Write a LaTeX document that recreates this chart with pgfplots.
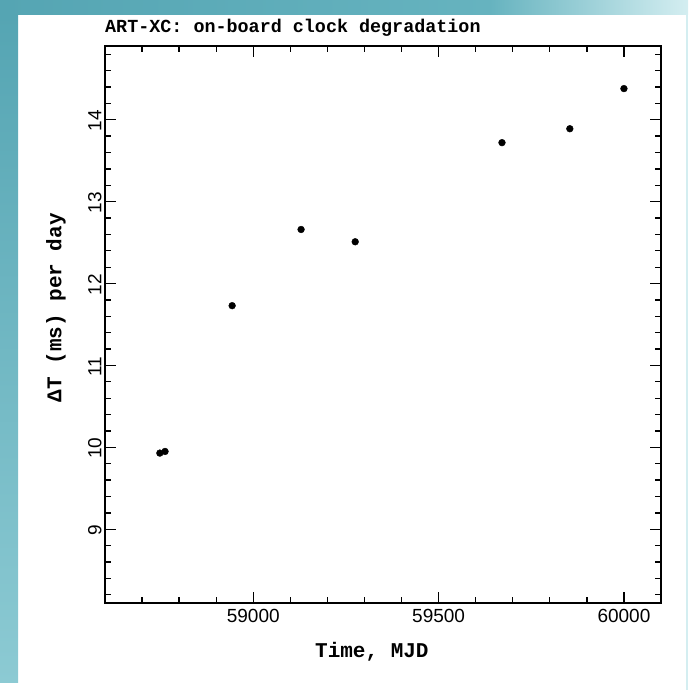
\documentclass[border=0pt]{standalone}
\usepackage{fontspec}
\setmainfont{Liberation Sans}
\newfontfamily\labfont{Liberation Mono}
\usepackage{pgfplots}
\pgfplotsset{compat=1.18}
\definecolor{bgteal}{HTML}{55A5B3}
\definecolor{bgmid}{HTML}{66B3BF}
\definecolor{bglight}{HTML}{D4EEF1}
\definecolor{bgleftlow}{HTML}{8CCAD3}
\begin{document}
\begin{tikzpicture}
\useasboundingbox (0,0) rectangle (688pt,690pt);
\fill[white] (0,0) rectangle (688pt,690pt);
\fill[left color=bgteal, right color=bgmid] (0,675pt) rectangle (490pt,690pt);
\fill[left color=bgmid, right color=bglight] (489.5pt,675pt) rectangle (688pt,690pt);
\fill[top color=bgteal, bottom color=bgleftlow] (0,7pt) rectangle (18pt,675.5pt);
\fill[bglight] (686pt,0) rectangle (688pt,675.5pt);
\begin{axis}[
  at={(105pt,87pt)}, anchor=south west,
  scale only axis, width=556pt, height=557pt,
  xmin=58600, xmax=60100, ymin=8.1, ymax=14.9,
  xtick={59000,59500,60000},
  minor xtick={58700,58800,58900,59100,59200,59300,59400,59600,59700,59800,59900},
  ytick={9,10,11,12,13,14},
  minor ytick={8.2,8.4,8.6,8.8,9.2,9.4,9.6,9.8,10.2,10.4,10.6,10.8,11.2,11.4,11.6,11.8,12.2,12.4,12.6,12.8,13.2,13.4,13.6,13.8,14.2,14.4,14.6,14.8},
  tick align=inside, major tick length=11pt, minor tick length=6pt,
  xtick pos=both, ytick pos=both,
  scaled x ticks=false,
  axis line style={line width=1.5pt},
  every tick/.style={line width=1.3pt, black},
  /pgf/number format/assume math mode=true,
  xticklabel style={/pgf/number format/1000 sep={}, font=\fontsize{19}{22}\selectfont, yshift=-3pt},
  yticklabel style={rotate=90, anchor=south, font=\fontsize{19}{22}\selectfont, xshift=-1pt},
  xlabel={Time, MJD},
  xlabel style={at={(axis description cs:0.48,0)}, anchor=north, yshift=-39pt, inner sep=0pt, font=\labfont\bfseries\fontsize{21}{24}\selectfont},
  ylabel={ΔT (ms) per day},
  ylabel style={at={(axis description cs:-0.0701,0.53)}, rotate=0, anchor=south, inner sep=0pt, font=\labfont\bfseries\fontsize{21}{24}\selectfont},
  title={ART-XC: on-board clock degradation},
  title style={at={(axis description cs:0,1)}, anchor=base west, yshift=7pt, inner sep=0pt, font=\labfont\bfseries\fontsize{18.4}{21}\selectfont},
]
\addplot[only marks, mark=*, mark size=3.4pt, black] coordinates {
  (58748,9.93) (58762,9.95) (58943,11.73) (59129,12.66) (59275,12.51)
  (59671,13.72) (59854,13.89) (60000,14.38)
};
\end{axis}
\end{tikzpicture}
\end{document}
